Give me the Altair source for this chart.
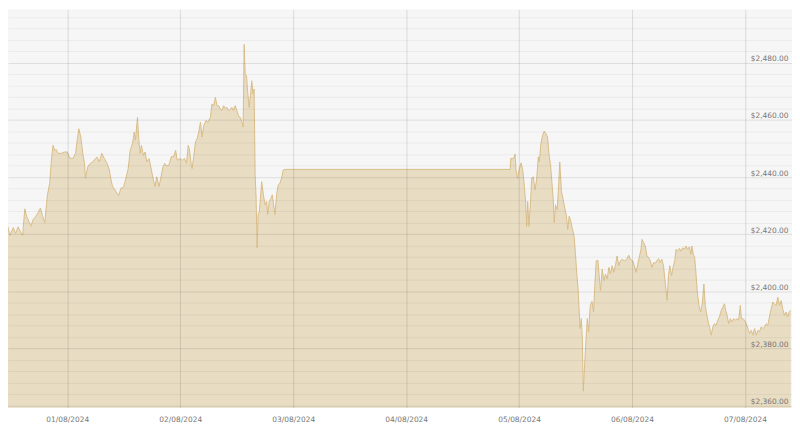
import altair as alt
import pandas as pd

# Hours elapsed since 2024-07-31 00:00 (local) and gold price in USD
hours = [
    10.55, 11.25, 11.82, 12.51, 13.02, 13.57, 14.08, 14.50, 14.98, 15.34,
    15.68, 16.25, 16.74, 17.31, 17.79, 18.30, 18.72, 19.21, 19.78, 20.26,
    20.62, 20.96, 21.32, 21.68, 22.02, 22.73, 23.43, 24.00, 24.49, 25.18,
    25.75, 26.11, 26.45, 26.87, 27.29, 27.65, 27.86, 28.35, 28.86, 29.41,
    29.98, 30.33, 30.82, 31.31, 31.88, 32.45, 32.93, 33.29, 33.63, 34.13,
    34.56, 34.89, 35.40, 35.95, 36.46, 36.94, 37.37, 37.85, 38.21, 38.48,
    38.91, 39.20, 39.48, 39.75, 40.17, 40.53, 40.89, 41.38, 41.87, 42.29,
    42.64, 43.00, 43.49, 43.85, 44.33, 44.69, 45.11, 45.60, 46.09, 46.66,
    47.02, 47.35, 47.92, 48.41, 48.91, 49.34, 49.68, 49.93, 50.35, 50.52,
    50.88, 51.24, 51.58, 51.93, 52.29, 52.63, 52.99, 53.48, 53.90, 54.40,
    54.74, 55.10, 55.46, 55.80, 56.16, 56.51, 56.85, 57.21, 57.57, 57.91,
    58.27, 58.63, 58.96, 59.32, 59.68, 60.02, 60.38, 60.74, 61.08, 61.37,
    61.58, 61.79, 62.07, 62.34, 62.64, 62.91, 63.19, 63.48, 63.69, 63.91,
    64.12, 64.33, 64.54, 64.81, 65.09, 65.30, 65.66, 66.02, 66.36, 66.57,
    66.93, 67.28, 67.56, 67.83, 68.13, 68.47, 68.83, 69.18, 69.52, 69.88,
    70.24, 118.09,
    118.23, 118.80, 119.14, 119.35, 119.65, 119.99, 120.41, 120.77, 121.12, 121.40,
    121.61, 121.82, 122.09, 122.45, 122.66, 123.02, 123.36, 123.72, 124.08, 124.29,
    124.63, 124.99, 125.35, 125.69, 126.04, 126.32, 126.68, 127.04, 127.25, 127.46,
    127.73, 128.09, 128.43, 128.64, 129.00, 129.36, 129.70, 130.06, 130.33, 130.63,
    130.90, 131.26, 131.68, 131.96, 132.23, 132.53, 132.74, 132.95, 133.22, 133.43,
    133.64, 133.92, 134.28, 134.49, 134.77, 135.12, 135.48, 135.82, 136.03, 136.39,
    136.75, 137.09, 137.30, 137.65, 138.01, 138.35, 138.71, 139.07, 139.41, 139.77,
    140.12, 140.46, 140.82, 141.18, 141.52, 141.88, 142.37, 142.87, 143.29, 143.63,
    144.14, 144.48, 144.84, 145.20, 145.53, 145.89, 146.10, 146.46, 146.80, 147.16,
    147.52, 147.86, 148.21, 148.57, 148.91, 149.27, 149.63, 149.97, 150.32, 150.68,
    150.96, 151.23, 151.45, 151.74, 152.02, 152.38, 152.71, 153.07, 153.34, 153.70,
    154.06, 154.40, 154.76, 155.12, 155.46, 155.81, 156.17, 156.51, 156.72, 157.02,
    157.29, 157.50, 157.86, 158.20, 158.56, 158.92, 159.26, 159.55, 159.83, 160.19,
    160.52, 160.82, 161.16, 161.51, 161.87, 162.21, 162.57, 162.93, 163.27, 163.63,
    163.90, 164.20, 164.53, 164.89, 165.25, 165.59, 165.95, 166.31, 166.65, 167.00,
    167.22, 167.57, 167.91, 168.27, 168.63, 168.97, 169.33, 169.69, 170.03, 170.39,
    170.74, 171.08, 171.44, 171.80, 172.14, 172.50, 172.86, 173.19, 173.55, 173.91,
    174.25, 174.61, 174.97, 175.31, 175.67, 176.02, 176.36, 176.72, 177.08, 177.42,
    177.72,
]

prices = [
    2420.5, 2423.4, 2419.6, 2422.3, 2420.3, 2422.6, 2420.7, 2419.6, 2428.9, 2426.3,
    2425.1, 2422.8, 2425.1, 2426.3, 2427.5, 2429.2, 2426.5, 2424.0, 2433.8, 2437.8,
    2445.9, 2451.1, 2449.4, 2449.6, 2448.3, 2448.3, 2448.8, 2448.8, 2446.7, 2446.5,
    2448.3, 2452.9, 2456.9, 2454.0, 2448.3, 2444.8, 2439.6, 2443.6, 2444.8, 2445.3,
    2446.5, 2447.0, 2445.3, 2448.3, 2446.5, 2444.8, 2442.5, 2439.0, 2436.7, 2435.5,
    2434.4, 2433.5, 2436.1, 2436.5, 2439.6, 2443.0, 2449.4, 2451.7, 2455.7, 2452.9,
    2460.9, 2452.9, 2448.3, 2451.1, 2447.6, 2448.8, 2445.3, 2446.5, 2442.5, 2439.0,
    2436.7, 2440.1, 2436.7, 2439.6, 2443.6, 2444.8, 2443.9, 2444.2, 2447.1, 2447.3,
    2449.4, 2445.9, 2446.5, 2445.9, 2446.5, 2444.8, 2451.1, 2450.0, 2444.0, 2443.0,
    2447.6, 2452.3, 2453.4, 2455.7, 2459.2, 2454.0, 2458.1, 2459.8, 2459.2, 2460.9,
    2465.6, 2465.0, 2467.9, 2465.0, 2465.0, 2463.8, 2463.3, 2465.0, 2464.1, 2464.4,
    2463.3, 2463.6, 2464.4, 2463.3, 2465.0, 2463.3, 2461.5, 2460.9, 2459.4, 2457.5,
    2486.4, 2476.0, 2475.4, 2469.6, 2464.4, 2468.5, 2473.7, 2469.0, 2470.8, 2440.7,
    2432.6, 2415.3, 2426.9, 2428.0, 2433.8, 2438.4, 2433.8, 2430.3, 2431.5, 2426.9,
    2431.5, 2432.6, 2433.8, 2430.3, 2426.9, 2433.8, 2437.3, 2437.9, 2439.6, 2442.5,
    2442.7, 2442.7,
    2446.5, 2446.5, 2448.0, 2442.5, 2439.6, 2442.5, 2445.0, 2442.5, 2436.7, 2430.9,
    2422.8, 2431.5, 2422.8, 2432.1, 2439.6, 2440.1, 2435.5, 2439.0, 2447.1, 2445.3,
    2451.7, 2454.6, 2456.1, 2455.2, 2454.0, 2448.3, 2444.2, 2436.7, 2432.1, 2424.0,
    2430.3, 2428.6, 2437.9, 2445.3, 2434.9, 2432.1, 2429.2, 2426.3, 2421.7, 2426.3,
    2425.1, 2422.3, 2419.3, 2413.6, 2406.7, 2400.9, 2393.9, 2387.0, 2390.5, 2383.5,
    2365.1, 2374.3, 2384.7, 2390.5, 2385.9, 2395.1, 2396.5, 2392.8, 2400.3, 2410.7,
    2410.9, 2403.8, 2400.3, 2407.8, 2403.8, 2406.1, 2404.3, 2408.4, 2406.1, 2409.0,
    2406.7, 2409.0, 2412.4, 2409.0, 2410.7, 2411.3, 2410.7, 2411.3, 2412.7, 2411.3,
    2410.7, 2409.0, 2406.7, 2409.5, 2411.9, 2414.7, 2418.2, 2417.1, 2415.9, 2412.4,
    2411.9, 2410.7, 2408.4, 2410.1, 2409.8, 2410.7, 2411.5, 2410.1, 2411.3, 2409.0,
    2404.3, 2400.3, 2396.8, 2405.5, 2409.0, 2405.5, 2408.4, 2410.7, 2414.7, 2414.1,
    2415.1, 2414.1, 2415.3, 2414.7, 2415.9, 2414.7, 2415.6, 2413.0, 2415.9, 2413.0,
    2411.9, 2408.0, 2400.0, 2395.3, 2392.8, 2395.7, 2402.6, 2395.1, 2392.2, 2389.3,
    2387.0, 2384.7, 2387.6, 2388.7, 2388.2, 2389.9, 2391.1, 2393.3, 2394.5, 2395.7,
    2393.3, 2391.6, 2388.7, 2390.5, 2389.3, 2390.5, 2389.9, 2390.5, 2389.9, 2395.1,
    2390.5, 2390.5, 2389.9, 2388.7, 2387.0, 2385.3, 2386.4, 2384.7, 2387.0, 2384.7,
    2386.4, 2385.9, 2387.6, 2387.0, 2387.6, 2388.7, 2388.2, 2391.1, 2393.9, 2396.3,
    2395.7, 2395.1, 2398.0, 2395.1, 2396.8, 2393.9, 2391.6, 2392.8, 2391.1, 2393.0,
    2393.3,
]

major_ticks = [2360, 2380, 2400, 2420, 2440, 2460, 2480]
minor_ticks = [v for v in range(2360, 2500, 4) if v % 20 != 0]
day_ticks = [1, 2, 3, 4, 5, 6, 7]
y_domain = [2359.3, 2498.7]

base_time = pd.Timestamp("2024-07-31 00:00")
df = pd.DataFrame({
    "time": [base_time + pd.Timedelta(hours=h) for h in hours],
    "price": prices,
})

x_scale = alt.Scale(domain=[
    alt.DateTime(year=2024, month=7, date=31, hours=11, minutes=24),
    alt.DateTime(year=2024, month=8, date=7, hours=9, minutes=59),
])
y_scale = alt.Scale(domain=y_domain, zero=False, nice=False)

FONT = "DejaVu Sans"

x_axis = alt.Axis(
    title=None,
    values=[alt.DateTime(year=2024, month=8, date=d) for d in day_ticks],
    format="%d/%m/%Y",
    labelFont=FONT, labelFontSize=7.5, labelColor="#777777",
    labelPadding=8, ticks=False, domain=False,
    grid=True, gridColor="#000000", gridOpacity=0.12, gridWidth=1,
    zindex=1,
)

area = alt.Chart(df).mark_area(
    color="#e8dcc3",
    opacity=1,
    clip=True,
    line={"color": "#d9bd88", "strokeWidth": 1},
).encode(
    x=alt.X("time:T", scale=x_scale, axis=x_axis),
    y=alt.Y("price:Q", scale=y_scale, axis=alt.Axis(
        title=None, orient="right", values=major_ticks, format="$,.2f",
        labelFont=FONT, labelFontSize=7.5, labelColor="#777777",
        labelAlign="right", labelBaseline="bottom", labelPadding=-4,
        ticks=False, domain=False,
        grid=True, gridColor="#000000", gridOpacity=0.10, gridWidth=1,
        zindex=1,
    )),
)

minor = alt.Chart(df).mark_line(opacity=0, clip=True).encode(
    x=alt.X("time:T", scale=x_scale, axis=x_axis),
    y=alt.Y("price:Q", scale=y_scale, axis=alt.Axis(
        title=None, orient="left", values=minor_ticks, labels=False,
        ticks=False, domain=False,
        grid=True, gridColor="#000000", gridOpacity=0.05, gridWidth=1,
        zindex=1,
    )),
)

chart = alt.layer(area, minor).resolve_axis(y="independent").properties(
    width=789, height=401, padding=0,
).configure_view(fill="#f6f6f6", strokeWidth=0)

chart.save("out.html", embed_options={"renderer": "svg", "actions": False})
